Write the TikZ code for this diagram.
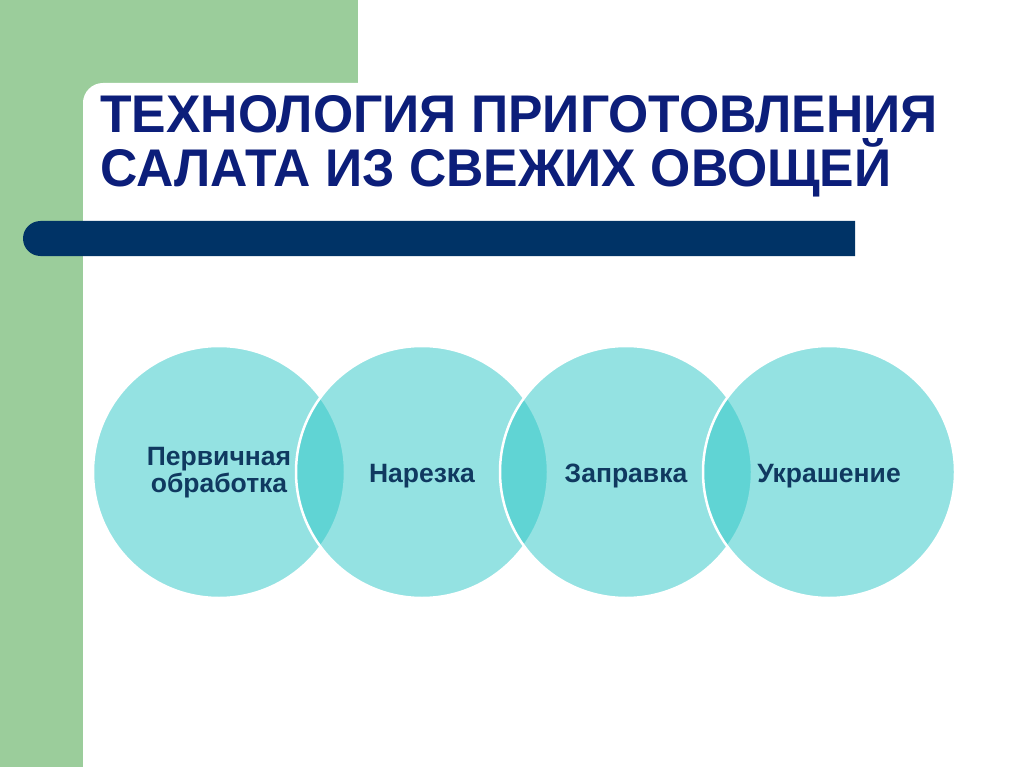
\documentclass[tikz,border=0pt]{standalone}
\usepackage{fontspec}
\setmainfont{Liberation Sans}
\usepackage{tikz}
\usetikzlibrary{positioning}

\definecolor{leafgreen}{RGB}{155,205,155}
\definecolor{barblue}{RGB}{0,51,102}
\definecolor{titleblue}{RGB}{12,30,122}
\definecolor{labelblue}{RGB}{16,57,96}
\definecolor{ringcyan}{RGB}{50,200,200}

\tikzset{
    ring/.style={circle, minimum size=252pt, fill=ringcyan, fill opacity=0.52,
        draw=white, draw opacity=1, line width=2.5pt},
    steplabel/.style={text=labelblue, font=\fontsize{26.5}{27}\selectfont\bfseries, align=center},
    titleline/.style={text=titleblue, font=\fontsize{53}{56}\selectfont\bfseries, inner sep=0pt, anchor=base west}
}

\begin{document}
\begin{tikzpicture}[x=1pt,y=-1pt]
    \useasboundingbox (0,0) rectangle (1024,767);
    \coordinate (G1) at (0, 0);
    \coordinate (G2) at (358, 100);
    \coordinate (G3) at (83, 767);
    \coordinate (W1) at (83, 83);
    \coordinate (W2) at (1060, 800);

    \coordinate (T1) at (100, 133);
    \coordinate (T2) at (100, 187);

    \coordinate (B1) at (855, 221);
    \coordinate (B2) at (40.5, 221);
    \coordinate (B3) at (855, 256);

    \coordinate (P1) at (219, 472);
    \coordinate (P2) at (422, 472);
    \coordinate (P3) at (626, 472);
    \coordinate (P4) at (829, 472);

    \fill[leafgreen] (G1) rectangle (G2);
    \fill[leafgreen] (G1) rectangle (G3);
    \fill[white, rounded corners=20pt] (W1) rectangle (W2);

    \fill[barblue] (B1) -- (B2) arc[start angle=270, end angle=90, radius=17.5] -- (B3) -- cycle;

    \node[ring] (C1) at (P1) {};
    \node[ring] (C2) at (P2) {};
    \node[ring] (C3) at (P3) {};
    \node[ring] (C4) at (P4) {};


%labels
    \node[titleline] (title1) at (T1) {\scalebox{0.975}[1]{ТЕХНОЛОГИЯ ПРИГОТОВЛЕНИЯ}};
    \node[titleline] (title2) at (T2) {\scalebox{0.975}[1]{САЛАТА ИЗ СВЕЖИХ ОВОЩЕЙ}};
    \node[steplabel] (L1) at ([yshift=-1pt]C1.center) {Первичная\\обработка};
    \node[steplabel, anchor=base] (L2) at ([yshift=-10pt]C2.center) {Нарезка};
    \node[steplabel, anchor=base] (L3) at ([yshift=-10pt]C3.center) {Заправка};
    \node[steplabel, anchor=base] (L4) at ([yshift=-10pt]C4.center) {Украшение};

\end{tikzpicture}
\end{document}
